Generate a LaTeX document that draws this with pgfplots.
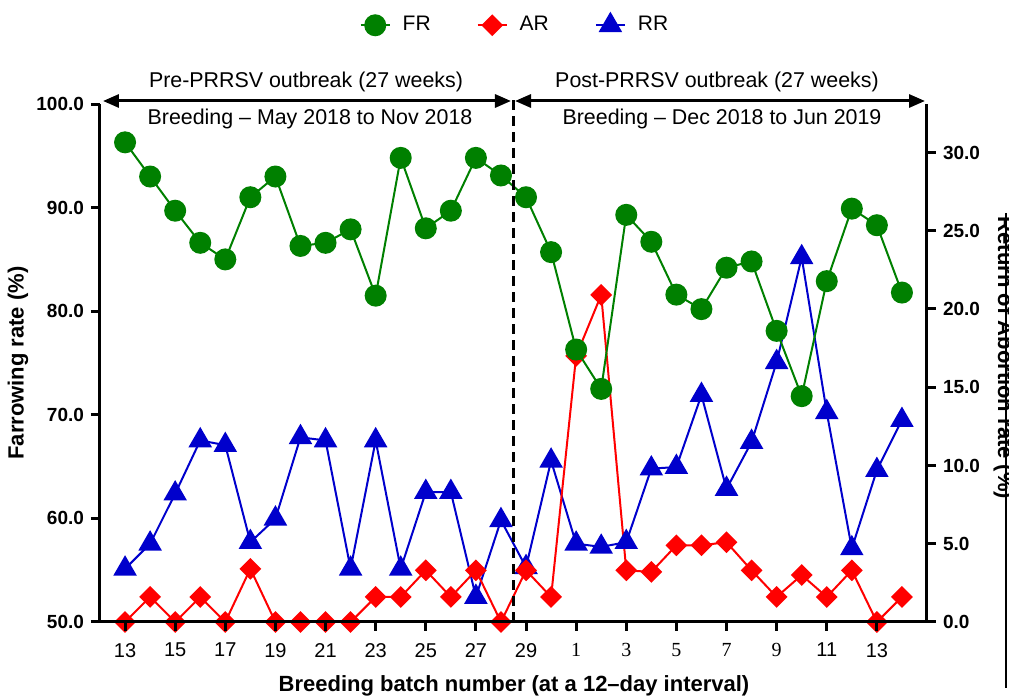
\documentclass[border=0pt]{standalone}
\usepackage{fontspec}
\setmainfont{Liberation Sans}
\newfontfamily\tnr{Liberation Serif}
\usepackage{pgfplots}
\usepackage{pgfplotstable}
\pgfplotsset{compat=1.18}
\usetikzlibrary{arrows.meta}

\definecolor{frgreen}{RGB}{0,128,0}
\definecolor{arred}{RGB}{255,0,0}
\definecolor{rrblue}{RGB}{0,0,204}

% idx: position on the batch axis (0 = batch 13 of the pre-outbreak run)
% FR: farrowing rate (%), AR: abortion rate (%), RR: return rate (%)
\pgfplotstableread{
idx FR   AR   RR
0   96.3 0.0  3.4
1   93.0 1.6  5.0
2   89.7 0.0  8.2
3   86.6 1.6  11.6
4   85.0 0.0  11.3
5   91.0 3.4  5.1
6   93.0 0.0  6.6
7   86.3 0.0  11.8
8   86.6 0.0  11.6
9   87.9 0.0  3.4
10  81.5 1.6  11.6
11  94.8 1.6  3.4
12  88.0 3.3  8.3
13  89.7 1.6  8.3
14  94.8 3.3  1.6
15  93.1 0.0  6.5
16  91.0 3.3  3.5
17  85.7 1.6  10.3
18  76.3 17.0 5.0
19  72.5 20.9 4.8
20  89.3 3.3  5.1
21  86.7 3.2  9.8
22  81.6 4.9  9.9
23  80.2 4.9  14.5
24  84.2 5.1  8.5
25  84.8 3.3  11.5
26  78.1 1.6  16.6
27  71.8 3.0  23.3
28  82.9 1.6  13.4
29  89.9 3.3  4.7
30  88.3 0.0  9.7
31  81.8 1.6  12.9
}\batches

\pgfplotsset{
  frstyle/.style={frgreen, line width=1pt, mark=*, mark size=5pt,
    mark options={solid, fill=frgreen, draw=frgreen}},
  arstyle/.style={arred, line width=1pt, mark=square*, mark size=3.35pt,
    mark options={solid, rotate=45, fill=arred, draw=arred}},
  rrstyle/.style={rrblue, line width=1pt, mark=triangle*, mark size=5.8pt,
    mark options={solid, fill=rrblue, draw=rrblue}},
  common/.style={
    width=413.5pt, height=259pt, scale only axis,
    xmin=-1, xmax=32,
    axis line style={line width=1.5pt},
    major tick length=4.5pt,
    tick style={line width=1.5pt, black},
    clip=false,
    /pgf/number format/fixed,
    /pgf/number format/fixed zerofill,
    /pgf/number format/precision=1,
    /pgf/number format/assume math mode=true,
    yticklabel style={font=\bfseries\fontsize{9.5}{11}\selectfont},
  },
}

\begin{document}
\begin{tikzpicture}
% right axis: return and abortion rates
\begin{axis}[common,
  axis x line=none, axis y line*=right,
  ymin=0, ymax=33.1,
  ytick={0,5,...,30},
  ytick align=outside,
]
\addplot[rrstyle] table[x=idx, y=RR]{\batches};
\addplot[arstyle] table[x=idx, y=AR]{\batches};
\end{axis}

% left axis: farrowing rate, batch axis and legend
\begin{axis}[common,
  axis x line*=bottom, axis y line*=left,
  ymin=50, ymax=100,
  ytick={50,60,...,100},
  xtick={0,2,...,30},
  xticklabels={13,15,17,19,21,23,25,27,29,{\tnr 1},{\tnr 3},{\tnr 5},{\tnr 7},{\tnr 9},11,13},
  xtick align=outside, ytick align=outside,
  xticklabel style={font=\fontsize{10}{12}\selectfont, yshift=-2.5pt},
  legend columns=3,
  legend style={at={(0.503,1.152)}, anchor=center, draw=none, fill=none,
    font=\fontsize{10.5}{12}\selectfont,
    /tikz/every even column/.append style={column sep=21pt},
    /tikz/every odd column/.append style={column sep=4pt}},
  legend image code/.code={%
    \draw[mark repeat=2, mark phase=2] plot coordinates {(0pt,0pt) (7.25pt,0pt) (14.5pt,0pt)};},
]
\addplot[frstyle] table[x=idx, y=FR]{\batches};
\addlegendentry{FR}
\addlegendimage{arstyle}
\addlegendentry{AR}
\addlegendimage{rrstyle}
\addlegendentry{RR}
% outbreak divider
\draw[black, line width=1.5pt, dash pattern=on 5pt off 3pt] (axis cs:15.5,50) -- (axis cs:15.5,100.5);
\end{axis}

% annotations in page pixel units
\begin{scope}[x=0.5pt, y=-0.5pt, shift={(-50pt,311pt)}]
  \draw[line width=1.5pt, {Triangle[length=8pt,width=6.5pt]}-{Triangle[length=8pt,width=6.5pt]}] (103,101) -- (511,101);
  \draw[line width=1.5pt, {Triangle[length=8pt,width=6.5pt]}-{Triangle[length=8pt,width=6.5pt]}] (515,101) -- (925,101);
  \begin{scope}[font=\fontsize{10.7}{12}\selectfont, inner sep=0pt]
    \node[anchor=base] at (306,87.5) {Pre-PRRSV outbreak (27 weeks)};
    \node[anchor=base] at (717,87.5) {Post-PRRSV outbreak (27 weeks)};
    \node[anchor=base] at (310,124.5) {Breeding -- May 2018 to Nov 2018};
    \node[anchor=base] at (722,124.5) {Breeding -- Dec 2018 to Jun 2019};
  \end{scope}
  \begin{scope}[font=\bfseries\fontsize{11}{13}\selectfont, inner sep=0pt]
    \node at (514,686) {Breeding batch number (at a 12--day interval)};
    \node[rotate=90] at (18,363) {Farrowing rate (\%)};
    \node[rotate=-90, anchor=base] at (998,358) {Return of Abortion rate (\%)};
  \end{scope}
  \draw[line width=1pt] (1006,213) -- (1006,688);
  \pgfresetboundingbox
  \path[use as bounding box] (0,0) rectangle (1009,696);
\end{scope}
\end{tikzpicture}
\end{document}
